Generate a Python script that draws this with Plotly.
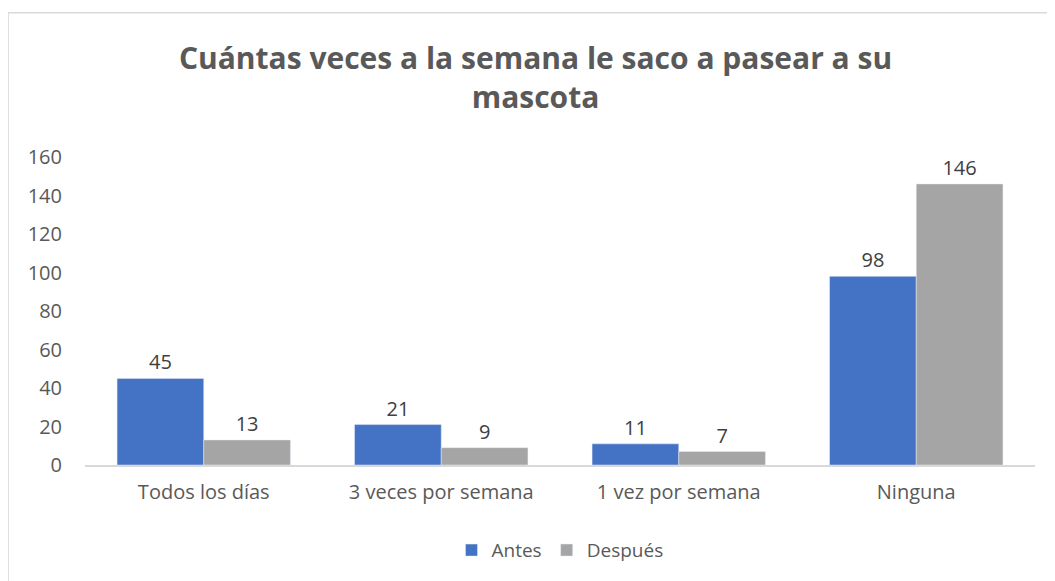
import plotly.graph_objects as go

categories = ["Todos los días", "3 veces por semana", "1 vez por semana", "Ninguna"]
antes = [45, 21, 11, 98]
despues = [13, 9, 7, 146]
y_ticks = [0, 20, 40, 60, 80, 100, 120, 140, 160]

FONT = "Open Sans"
TXT = "#595959"

fig = go.Figure()
fig.add_trace(go.Bar(name="Antes", x=categories, y=antes, marker_color="#4472C4",
                     text=antes, textposition="outside", cliponaxis=False,
                     textfont=dict(size=20, color="#404040", family=FONT)))
fig.add_trace(go.Bar(name="Después", x=categories, y=despues, marker_color="#A5A5A5",
                     text=despues, textposition="outside", cliponaxis=False,
                     textfont=dict(size=20, color="#404040", family=FONT)))

fig.update_layout(
    width=1055, height=581,
    margin=dict(l=77, r=28, t=149, b=124, autoexpand=False),
    paper_bgcolor="white", plot_bgcolor="white",
    barmode="group", bargap=0.27, bargroupgap=0,
    font=dict(family=FONT, color=TXT, size=20),
    title=dict(text="Cuántas veces a la semana le saco a pasear a su<br>mascota",
               x=0.5, xref="container", xanchor="center", yref="container", y=0.895, yanchor="top",
               font=dict(family=FONT, size=30, color=TXT, weight="bold")),
    legend=dict(orientation="h", x=0.5, xanchor="center", y=-0.215, yanchor="top",
                font=dict(size=19, color=TXT, family=FONT), traceorder="normal"),
    xaxis=dict(showline=True, linecolor="#D9D9D9", linewidth=1.5, ticks="",
               tickfont=dict(size=20, color=TXT), showgrid=False, ticklabelstandoff=8),
    yaxis=dict(range=[0, 160], tickvals=y_ticks, showgrid=False, zeroline=False,
               showline=False, tickfont=dict(size=20, color=TXT), ticklabelstandoff=22),
    showlegend=True,
)
fig.add_shape(type="rect", xref="paper", yref="paper",
              x0=-0.081, x1=1.04, y0=-0.45, y1=1.468,
              line=dict(color="#D9D9D9", width=1.5), fillcolor="rgba(0,0,0,0)", layer="below")

fig.write_html("out.html")
